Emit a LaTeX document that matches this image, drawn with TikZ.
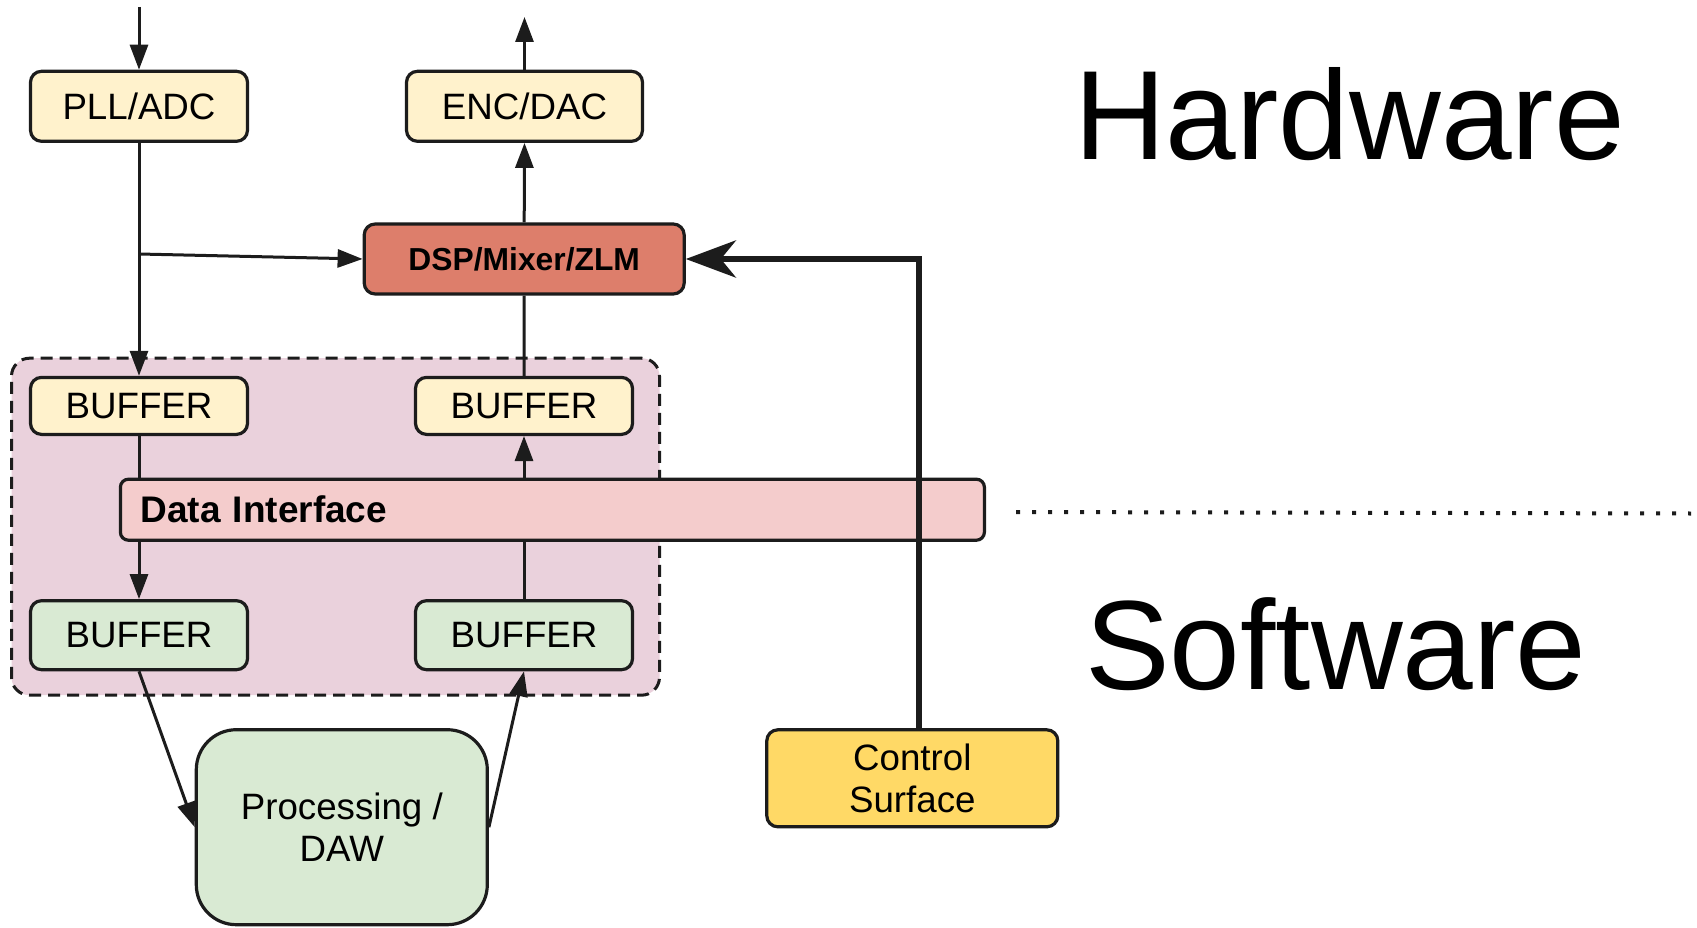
\documentclass[tikz,border=0pt]{standalone}
\usepackage{fontspec}
\setmainfont{Liberation Sans}
\usetikzlibrary{arrows.meta}

\definecolor{ink}{HTML}{1C1C1C}
\definecolor{hwfill}{HTML}{FFF2CC}
\definecolor{swfill}{HTML}{D9EAD3}
\definecolor{dspfill}{HTML}{DD7E6B}
\definecolor{difill}{HTML}{F4CCCC}
\definecolor{grpfill}{HTML}{EAD1DC}
\definecolor{ctrlfill}{HTML}{FFD966}

\tikzset{
  box/.style={draw=ink, line width=3.2pt, rounded corners=11pt, inner sep=0pt,
    align=center, font=\fontsize{36.7}{42}\selectfont},
  hwbox/.style={box, fill=hwfill},
  swbox/.style={box, fill=swfill},
  conn/.style={draw=ink, line width=3pt},
  arr/.style={conn, -{Triangle[length=25pt,width=18pt]}},
  ctrlarr/.style={draw=ink, line width=6.5pt, -{Stealth[length=50pt,width=37pt,inset=15pt]}},
  dotline/.style={draw=ink, line width=4pt, dash pattern=on 4pt off 12pt},
  bigword/.style={anchor=base west, inner sep=0pt, font=\fontsize{127}{127}\selectfont},
}

\begin{document}
\begin{tikzpicture}[x=1pt, y=-1pt]
  \useasboundingbox (0,0) rectangle (1697,928);

  % software/hardware boundary group
  \node[draw=ink, line width=3pt, dash pattern=on 12pt off 7pt, fill=grpfill,
        rounded corners=18pt, minimum width=648pt, minimum height=337pt, inner sep=0pt]
        (grp) at (335.5,526.7) {};

  % hardware blocks
  \node[hwbox, minimum width=217pt, minimum height=70pt] (pll) at (139,106.3) {PLL/ADC};
  \node[hwbox, minimum width=236pt, minimum height=70pt] (enc) at (524.5,106.3) {ENC/DAC};
  \node[box, fill=dspfill, minimum width=320pt, minimum height=70pt,
        font=\fontsize{31.8}{36}\selectfont\bfseries] (dsp) at (524.2,259) {DSP/Mixer/ZLM};

  % buffers
  \node[hwbox, minimum width=217pt, minimum height=57pt] (buftl) at (139,405.9) {BUFFER};
  \node[hwbox, minimum width=217pt, minimum height=57pt] (buftr) at (524,405.9) {BUFFER};
  \node[swbox, minimum width=217pt, minimum height=69pt] (bufbl) at (139,635.2) {BUFFER};
  \node[swbox, minimum width=217pt, minimum height=69pt] (bufbr) at (524,635.2) {BUFFER};

  % data interface bar
  \node[box, fill=difill, rounded corners=8pt, minimum height=61pt, inner xsep=20pt,
        text width=824pt, align=left, font=\fontsize{37}{42}\selectfont\bfseries]
        (di) at (552.4,509.7) {Data Interface};

  % software side
  \node[swbox, rounded corners=40pt, minimum width=291pt, minimum height=195pt]
        (proc) at (341.8,827.2) {Processing /\\DAW};
  \node[box, fill=ctrlfill, minimum width=291pt, minimum height=97pt]
        (ctrl) at (912.3,778.3) {Control\\Surface};

  % labels
  \node[bigword] (hw) at (1074,160) {Hardware};
  \node[bigword] (sw) at (1085,689.3) {Software};

  % free ends
  \coordinate (in) at (139,7);
  \coordinate (out) at (524.5,17);
  \coordinate (tap) at (139,254);
  \coordinate (dl) at (1016,512);
  \coordinate (dr) at (1691,513.5);

  % signal flow
  \draw[arr] (in) -- (pll.north);
  \draw[arr] (pll.south) -- (buftl.north);
  \draw[arr] (tap) -- (dsp.west);
  \draw[arr] (dsp.north) -- (enc.south);
  \draw[arr] (enc.north) -- (out);
  \draw[conn] (buftr.north) -- (dsp.south);

  \draw[conn] (buftl.south) -- (buftl.south |- di.north);
  \draw[arr] (bufbl.north |- di.south) -- (bufbl.north);
  \draw[conn] (bufbr.north) -- (bufbr.north |- di.south);
  \draw[arr] (buftr.south |- di.north) -- (buftr.south);

  \draw[arr] (bufbl.south) -- (proc.west);
  \draw[arr] (proc.east) -- (bufbr.south);

  \draw[ctrlarr] ([xshift=6.7pt]ctrl.north) |- (dsp.east);

  % boundary
  \draw[dotline] (dl) -- (dr);
\end{tikzpicture}
\end{document}
